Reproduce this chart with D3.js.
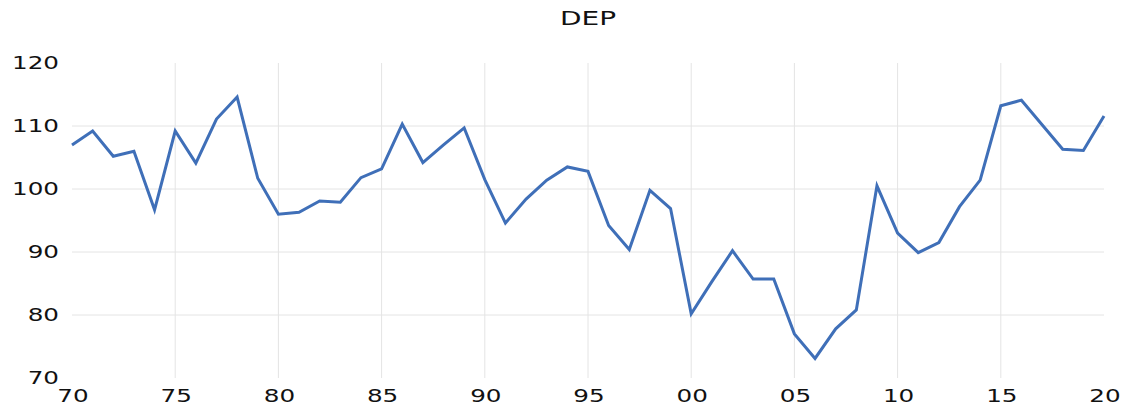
<!DOCTYPE html>
<html>
<head>
<meta charset="utf-8">
<style>
  body { margin: 0; background: #fff; }
  text { font-family: "DejaVu Sans", sans-serif; fill: #111; }
</style>
</head>
<body>
<svg width="1122" height="409"></svg>
<script src="https://d3js.org/d3.v7.min.js"></script>
<script>

var years = d3.range(1970, 2021);
var dep = [107.0, 109.2, 105.2, 106.0, 96.7, 109.2, 104.1, 111.1, 114.6, 101.7,
           96.0, 96.3, 98.1, 97.9, 101.8, 103.2, 110.3, 104.2, 107.0, 109.7,
           101.5, 94.6, 98.4, 101.4, 103.5, 102.8, 94.2, 90.4, 99.8, 96.9,
           80.2, 85.3, 90.2, 85.7, 85.7, 77.0, 73.1, 77.8, 80.8, 100.5,
           93.0, 89.9, 91.5, 97.2, 101.4, 113.2, 114.1, 110.2, 106.3, 106.1,
           111.6];
var xTicks = [1970, 1975, 1980, 1985, 1990, 1995, 2000, 2005, 2010, 2015, 2020];
var yTicks = [70, 80, 90, 100, 110, 120];
var yGrid = [80, 90, 100, 110];

var svg = d3.select("svg");
var stretch = 1.45;

var x = d3.scaleLinear().domain([1970, 2020]).range([72, 1104]);
var y = d3.scaleLinear().domain([70, 120]).range([378, 63]);

// grid
svg.append("g").selectAll("line")
    .data(xTicks.slice(1, -1))
  .enter().append("line")
    .attr("x1", function(d) { return x(d); })
    .attr("x2", function(d) { return x(d); })
    .attr("y1", y(120))
    .attr("y2", y(70))
    .attr("stroke", "#e4e4e4")
    .attr("stroke-width", 1);

svg.append("g").selectAll("line")
    .data(yGrid)
  .enter().append("line")
    .attr("x1", x(1970))
    .attr("x2", x(2020))
    .attr("y1", function(d) { return y(d); })
    .attr("y2", function(d) { return y(d); })
    .attr("stroke", "#e4e4e4")
    .attr("stroke-width", 1);

// line
var line = d3.line()
    .x(function(d, i) { return x(years[i]); })
    .y(function(d) { return y(d); });

svg.append("path")
    .datum(dep)
    .attr("fill", "none")
    .attr("stroke", "#3f6fb8")
    .attr("stroke-width", 3)
    .attr("stroke-linejoin", "miter")
    .attr("d", line);

// y labels
svg.append("g").selectAll("g")
    .data(yTicks)
  .enter().append("g")
    .attr("transform", function(d) { return "translate(59," + (y(d) + 6) + ") scale(" + stretch + ",1)"; })
  .append("text")
    .attr("text-anchor", "end")
    .attr("font-size", 17)
    .text(function(d) { return d; });

// x labels
svg.append("g").selectAll("g")
    .data(xTicks)
  .enter().append("g")
    .attr("transform", function(d) { return "translate(" + (x(d) + 1) + ",402) scale(" + stretch + ",1)"; })
  .append("text")
    .attr("text-anchor", "middle")
    .attr("font-size", 17)
    .text(function(d) { return String(d).slice(2); });

// title
svg.append("g")
    .attr("transform", "translate(588,25) scale(1.4,1)")
  .append("text")
    .attr("text-anchor", "middle")
    .attr("font-size", 20)
    .text("DEP");

</script>
</body>
</html>
